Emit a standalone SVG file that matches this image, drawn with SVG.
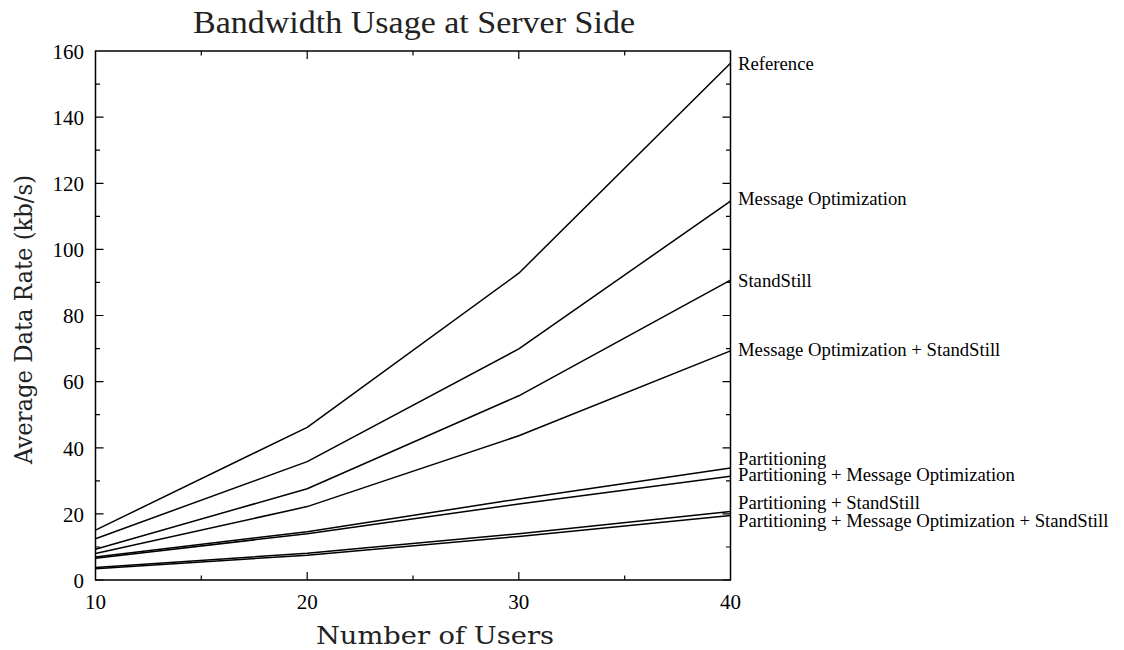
<svg xmlns="http://www.w3.org/2000/svg" width="1124" height="650" viewBox="0 0 1124 650">
<style>
.ax{fill:none;stroke:#000;stroke-width:1.5}
.tk{stroke:#000;stroke-width:1.2}
.ln{fill:none;stroke:#000;stroke-width:1.5;stroke-linejoin:round}
.tl{font-family:"Liberation Serif","Times New Roman",serif;font-size:21px;fill:#000}
.lb{font-family:"Liberation Serif","Times New Roman",serif;font-size:18.7px;fill:#000}
.ti{font-family:"DejaVu Serif","Liberation Serif",serif;fill:#222}
.tt{font-family:"Liberation Serif","Times New Roman",serif;fill:#222}
</style>
<rect width="1124" height="650" fill="#fff"/>
<text class="tt" x="193" y="33" font-size="32.5" textLength="442" lengthAdjust="spacingAndGlyphs">Bandwidth Usage at Server Side</text>
<text class="ti" x="316" y="644" font-size="23.5" textLength="238" lengthAdjust="spacingAndGlyphs">Number of Users</text>
<text class="ti" transform="translate(32,464) rotate(-90)" font-size="23.5" textLength="289" lengthAdjust="spacingAndGlyphs">Average Data Rate (kb/s)</text>
<g id="ticks">
<path class="tk" d="M95.5 580h8M95.5 547h4.5M95.5 513.9h8M95.5 480.8h4.5M95.5 447.8h8M95.5 414.7h4.5M95.5 381.6h8M95.5 348.6h4.5M95.5 315.5h8M95.5 282.4h4.5M95.5 249.4h8M95.5 216.3h4.5M95.5 183.3h8M95.5 150.2h4.5M95.5 117.1h8M95.5 84.1h4.5"/>
<path class="tk" d="M730.5 580h-8M730.5 547h-4.5M730.5 513.9h-8M730.5 480.8h-4.5M730.5 447.8h-8M730.5 414.7h-4.5M730.5 381.6h-8M730.5 348.6h-4.5M730.5 315.5h-8M730.5 282.4h-4.5M730.5 249.4h-8M730.5 216.3h-4.5M730.5 183.3h-8M730.5 150.2h-4.5M730.5 117.1h-8M730.5 84.1h-4.5"/>
<path class="tk" d="M201.3 580v-4.5M307.2 580v-8M413 580v-4.5M518.8 580v-8M624.7 580v-4.5M201.3 51v4.5M307.2 51v8M413 51v4.5M518.8 51v8M624.7 51v4.5"/>
</g>
<g id="ytick-labels" class="tl" text-anchor="end">
<text x="84" y="588">0</text>
<text x="84" y="521.5">20</text>
<text x="84" y="455.5">40</text>
<text x="84" y="389">60</text>
<text x="84" y="323">80</text>
<text x="84" y="257">100</text>
<text x="84" y="191">120</text>
<text x="84" y="125">140</text>
<text x="84" y="59">160</text>
</g>
<g id="xtick-labels" class="tl" text-anchor="middle">
<text x="95.5" y="609">10</text>
<text x="307.2" y="609">20</text>
<text x="518.8" y="609">30</text>
<text x="730.5" y="609">40</text>
</g>
<g id="series">
<polyline id="s-reference" class="ln" points="95.5,530.1 307.2,427.3 518.8,273.2 730.5,63.2"/>
<polyline id="s-msgopt" class="ln" points="95.5,538.7 307.2,461.6 518.8,348.9 730.5,201.1"/>
<polyline id="s-standstill" class="ln" points="95.5,549.3 307.2,488.7 518.8,395.8 730.5,280.1"/>
<polyline id="s-msgopt-ss" class="ln" points="95.5,553.5 307.2,506.6 518.8,435.8 730.5,350.9"/>
<polyline id="s-part" class="ln" points="95.5,556.9 307.2,531.7 518.8,499.0 730.5,467.9"/>
<polyline id="s-part-mo" class="ln" points="95.5,558.2 307.2,533.7 518.8,504.0 730.5,476.2"/>
<polyline id="s-part-ss" class="ln" points="95.5,567.4 307.2,553.2 518.8,533.7 730.5,511.6"/>
<polyline id="s-part-mo-ss" class="ln" points="95.5,568.8 307.2,555.2 518.8,536.4 730.5,515.5"/>
</g>
<rect id="frame" class="ax" x="95.5" y="51" width="635" height="529"/>
<g id="series-labels" class="lb">
<text x="738" y="70">Reference</text>
<text x="738" y="205">Message Optimization</text>
<text x="738" y="287">StandStill</text>
<text x="738" y="356">Message Optimization + StandStill</text>
<text x="738" y="464.5">Partitioning</text>
<text x="738" y="480.5">Partitioning + Message Optimization</text>
<text x="738" y="509">Partitioning + StandStill</text>
<text x="738" y="527">Partitioning + Message Optimization + StandStill</text>
</g>
</svg>
